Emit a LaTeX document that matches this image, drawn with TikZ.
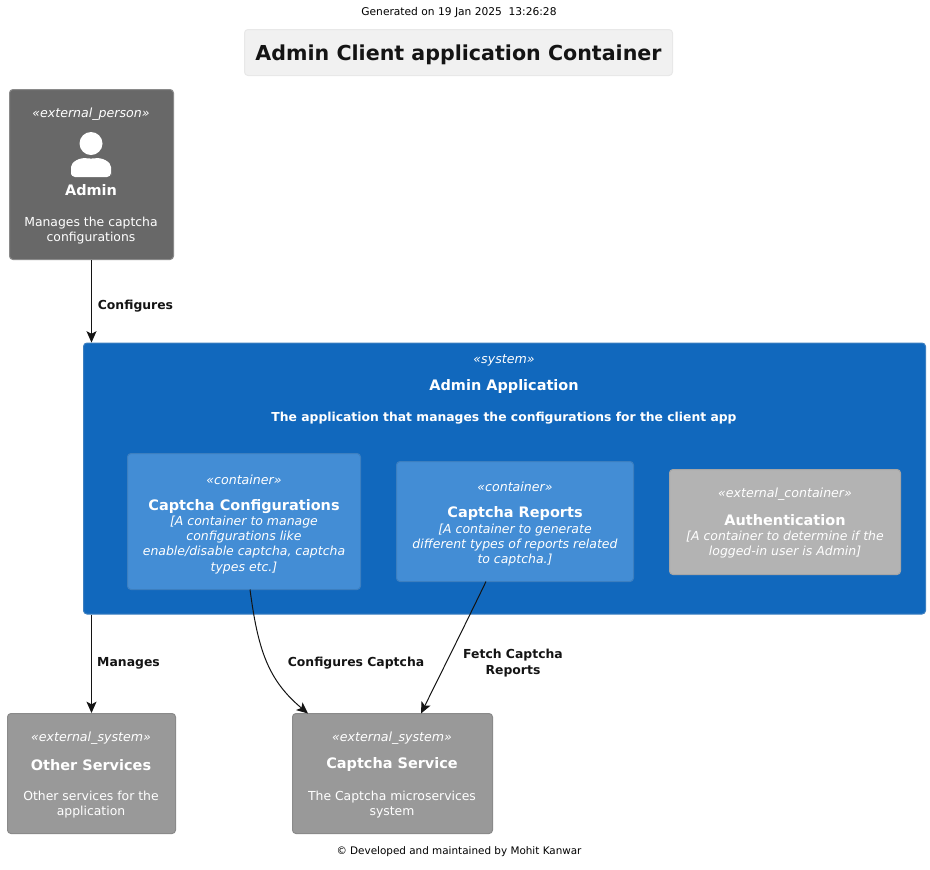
\documentclass[tikz,border=0pt]{standalone}
\usepackage{fontspec}
\setmainfont{DejaVu Sans}
\usetikzlibrary{arrows.meta}
\definecolor{ink}{HTML}{141414}
\definecolor{persfill}{HTML}{686868}
\definecolor{persline}{HTML}{8A8A8A}
\definecolor{sysfill}{HTML}{1168BD}
\definecolor{sysline}{HTML}{3C7FC0}
\definecolor{contfill}{HTML}{438DD5}
\definecolor{extcfill}{HTML}{B3B3B3}
\definecolor{extcline}{HTML}{A6A6A6}
\definecolor{extsfill}{HTML}{999999}
\definecolor{extsline}{HTML}{8A8A8A}
\definecolor{titlefill}{HTML}{F1F1F1}
\definecolor{titleline}{HTML}{E8E8E8}
\tikzset{
  x=0.75pt,y=-0.75pt,
  boxshape/.style={rectangle,rounded corners=2.6pt,line width=0.75pt,inner sep=0pt},
  personbox/.style={boxshape,fill=persfill,draw=persline},
  systembox/.style={boxshape,fill=sysfill,draw=sysline},
  containerbox/.style={boxshape,fill=contfill,draw=sysline},
  extcontainerbox/.style={boxshape,fill=extcfill,draw=extcline},
  extsystembox/.style={boxshape,fill=extsfill,draw=extsline},
  titlebox/.style={boxshape,fill=titlefill,draw=titleline},
  stereo/.style={text=white,yshift=-1.1pt,font=\fontsize{9.45pt}{12pt}\selectfont\itshape,inner sep=0pt},
  heading/.style={text=white,yshift=-0.6pt,font=\fontsize{10.85pt}{14pt}\selectfont\bfseries,inner sep=0pt},
  desc/.style={text=white,yshift=-0.9pt,align=center,font=\fontsize{9.3pt}{11.25pt}\selectfont,inner sep=0pt},
  techdesc/.style={text=white,yshift=-0.75pt,align=center,font=\fontsize{9.35pt}{11.3pt}\selectfont\itshape,inner sep=0pt},
  edgelabel/.style={text=ink,yshift=-0.9pt,align=center,font=\fontsize{9.3pt}{12pt}\selectfont\bfseries,inner sep=0pt},
  smalltext/.style={text=black,yshift=-0.6pt,font=\fontsize{7.8pt}{10pt}\selectfont,inner sep=0pt},
  link/.style={draw=ink,line width=0.75pt,-{Stealth[length=8.5pt,width=7.5pt,inset=2pt]}},
}
\newcommand{\boxat}[6]{\node[#1,minimum width=#4*0.75pt,minimum height=#5*0.75pt] (#6) at (#2,#3) {};}
\begin{document}
\begin{tikzpicture}
\useasboundingbox (0,0) rectangle (930,869);
\node[smalltext,font=\fontsize{8pt}{10pt}\selectfont] (gen) at (459,12) {Generated on 19 Jan 2025\hspace{5pt}13:26:28};
\boxat{titlebox}{458.5}{52.5}{428}{46}{titleb}
\node[text=ink,font=\fontsize{15.45pt}{20pt}\selectfont\bfseries,inner sep=0pt] (titlet) at (458.5,55) {Admin Client application Container};

\boxat{personbox}{91.5}{174.5}{164}{170}{admin}
\node[stereo] (admins) at (91,113) {«external\_person»};
\fill[white] (91,143.5) circle (11.5*0.75pt);
\fill[white,rounded corners=3pt] (71,177) -- (71,171) .. controls (71,162) and (80,157) .. (91,159) .. controls (102,157) and (111,162) .. (111,171) -- (111,177) -- cycle;
\node[heading] (adminh) at (91,189) {Admin};
\node[desc] (admind) at (91,229) {Manages the captcha\\configurations};

\boxat{systembox}{504.5}{478.5}{842}{271}{system}
\node[stereo] (systems) at (504,358.5) {«system»};
\node[heading] (systemh) at (504,385.5) {Admin Application};
\node[text=white,yshift=-0.75pt,font=\fontsize{9.26pt}{12pt}\selectfont\bfseries,inner sep=0pt] (systemd) at (504,417) {The application that manages the configurations for the client app};

\boxat{containerbox}{244}{521.5}{233}{136}{conf}
\node[stereo] (confs) at (244,478) {«container»};
\node[heading] (confh) at (244,505.5) {Captcha Configurations};
\node[techdesc] (confd) at (244,544) {[A container to manage\\configurations like\\enable/disable captcha, captcha\\types etc.]};

\boxat{containerbox}{515}{521.5}{237}{120}{rep}
\node[stereo] (reps) at (515,485) {«container»};
\node[heading] (reph) at (515,513) {Captcha Reports};
\node[techdesc] (repd) at (515,544) {[A container to generate\\different types of reports related\\to captcha.]};

\boxat{extcontainerbox}{785}{522}{231}{105}{auth}
\node[stereo] (auths) at (785,493) {«external\_container»};
\node[heading] (authh) at (785,519.5) {Authentication};
\node[techdesc] (authd) at (785,544) {[A container to determine if the\\logged-in user is Admin]};

\boxat{extsystembox}{91.5}{773.5}{168}{120}{other}
\node[stereo] (others) at (91,737) {«external\_system»};
\node[heading] (otherh) at (91,764) {Other Services};
\node[desc] (otherd) at (91,803) {Other services for the\\application};

\boxat{extsystembox}{392.5}{773.5}{200}{120}{capt}
\node[stereo] (capts) at (392,737) {«external\_system»};
\node[heading] (capth) at (392,764) {Captcha Service};
\node[desc] (captd) at (392,803) {The Captcha microservices\\system};

\node[smalltext] (foot) at (459,851) {© Developed and maintained by Mohit Kanwar};

\coordinate (confout) at (250,589.5);
\coordinate (captinl) at (308,713.5);
\coordinate (repout) at (486,581.5);
\coordinate (captinr) at (421,713.5);

\draw[link] (admin.south) -- (admin.south |- system.north);
\draw[link] (other.north |- system.south) -- (other.north);
\draw[link] (confout) .. controls (258,650) and (268,680) .. (captinl);
\draw[link] (repout) .. controls (465,625) and (445,665) .. (captinr);

\node[edgelabel] (l1) at (135.5,305) {Configures};
\node[edgelabel] (l2) at (128.5,662) {Manages};
\node[edgelabel] (l3) at (356,662) {Configures Captcha};
\node[edgelabel] (l4) at (513,661.5) {Fetch Captcha\\Reports};
\end{tikzpicture}
\end{document}
